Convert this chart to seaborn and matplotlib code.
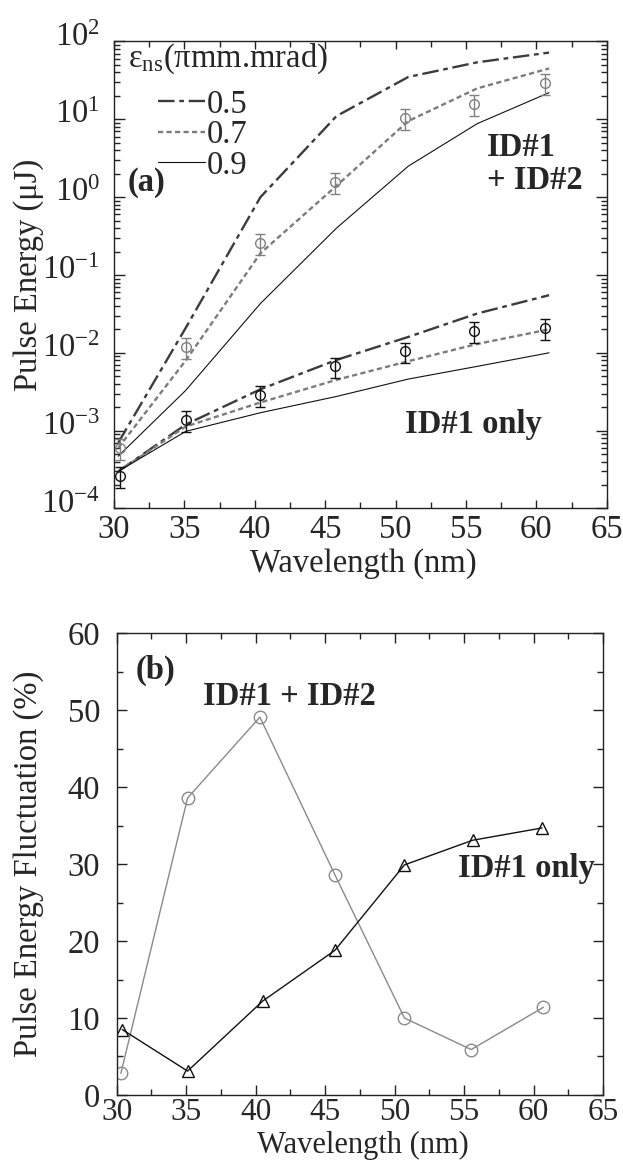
import matplotlib
matplotlib.use("Agg")
import matplotlib.pyplot as plt
import matplotlib.ticker as mticker
import matplotlib.transforms as mtransforms
import seaborn as sns

# ---------------- data ----------------
# (a) measured pulse energy (uJ) with error bars
lam_points = [30.4, 35.1, 40.4, 45.7, 50.7, 55.6, 60.6]
energy_both = [6.0e-4, 1.2e-2, 0.255, 1.57, 10.5, 15.9, 29.0]
energy_both_err = [1.8e-4, 3.6e-3, 0.077, 0.47, 3.2, 4.8, 8.7]
energy_id1 = [2.6e-4, 1.38e-3, 2.9e-3, 6.7e-3, 1.04e-2, 1.93e-2, 2.11e-2]
energy_id1_err = [0.78e-4, 0.41e-3, 0.87e-3, 2.0e-3, 3.1e-3, 5.8e-3, 6.3e-3]

# (a) simulated pulse energy for three slice emittances
lam_model = [30.3, 35.1, 40.4, 45.8, 50.9, 55.8, 60.9]
emittances = ["0.5", "0.7", "0.9"]
model_both = {
    "0.5": [7.0e-4, 2.1e-2, 1.0, 11.0, 35.0, 54.0, 72.0],
    "0.7": [6.0e-4, 8.0e-3, 0.19, 1.4, 9.5, 25.0, 45.0],
    "0.9": [4.7e-4, 3.3e-3, 0.043, 0.40, 2.5, 8.8, 22.0],
}
model_id1 = {
    "0.5": [3.0e-4, 1.2e-3, 3.4e-3, 8.1e-3, 1.6e-2, 3.2e-2, 5.5e-2],
    "0.7": [3.0e-4, 1.13e-3, 2.3e-3, 4.5e-3, 7.8e-3, 1.3e-2, 2.0e-2],
    "0.9": [3.0e-4, 9.8e-4, 1.7e-3, 2.75e-3, 4.6e-3, 6.7e-3, 1.0e-2],
}

# (b) pulse energy fluctuation (%)
lam_fluct_both = [30.3, 35.1, 40.3, 45.7, 50.7, 55.5, 60.7]
fluct_both = [2.8, 38.6, 49.1, 28.6, 10.0, 5.9, 11.4]
lam_fluct_id1 = [30.4, 35.1, 40.5, 45.7, 50.7, 55.6, 60.6]
fluct_id1 = [8.5, 3.1, 12.2, 18.8, 29.9, 33.1, 34.7]

# ---------------- style ----------------
sns.set_style("ticks")
plt.rcParams["font.family"] = ["Liberation Serif", "DejaVu Serif"]
plt.rcParams["mathtext.fontset"] = "custom"
plt.rcParams["mathtext.rm"] = "Liberation Serif"
plt.rcParams["mathtext.it"] = "Liberation Serif:italic"
plt.rcParams["mathtext.bf"] = "Liberation Serif:bold"
plt.rcParams["axes.linewidth"] = 1.0
plt.rcParams["axes.edgecolor"] = "#222222"

FS = 23.5
line_styles = {
    "0.5": dict(color="#3c3c3c", linewidth=1.7, linestyle=(0, (7.0, 2.0, 2.0, 2.0))),
    "0.7": dict(color="#7c7c7c", linewidth=1.7, linestyle=(0, (2.2, 1.4))),
    "0.9": dict(color="#111111", linewidth=0.8, linestyle="-"),
}
gray_pts = "#808080"

fig = plt.figure(figsize=(6.23, 11.62), dpi=100)
ax_a = fig.add_axes([0.183, 0.5624, 0.791, 0.4019])
ax_b = fig.add_axes([0.1873, 0.0577, 0.781, 0.3973])

# ---------------- panel (a) ----------------
for e in emittances:
    sns.lineplot(x=lam_model, y=model_both[e], ax=ax_a, estimator=None, sort=False,
                 legend=False, label=e, **line_styles[e])
for e in emittances:
    sns.lineplot(x=lam_model, y=model_id1[e], ax=ax_a, estimator=None, sort=False,
                 legend=False, **line_styles[e])

ax_a.errorbar(lam_points, energy_both, yerr=energy_both_err, fmt="o", ms=7,
              mfc="none", mec=gray_pts, mew=1.0, ecolor=gray_pts, elinewidth=1.0,
              capsize=3.5, capthick=1.0, zorder=5)
ax_a.errorbar(lam_points, energy_id1, yerr=energy_id1_err, fmt="o", ms=7,
              mfc="none", mec="#111111", mew=1.0, ecolor="#111111", elinewidth=1.0,
              capsize=3.5, capthick=1.0, zorder=5)

ax_a.set_yscale("log")
ax_a.set_xlim(30, 65)
ax_a.set_ylim(1e-4, 1e2)
ax_a.xaxis.set_major_locator(mticker.MultipleLocator(5))
ax_a.xaxis.set_minor_locator(mticker.MultipleLocator(2.5))
ax_a.yaxis.set_major_locator(mticker.LogLocator(base=10, numticks=20))
ax_a.yaxis.set_minor_locator(mticker.LogLocator(base=10, subs=range(2, 10), numticks=20))
ax_a.yaxis.set_minor_formatter(mticker.NullFormatter())
ax_a.tick_params(axis="both", which="both", direction="in", top=True, right=True,
                 labelsize=FS, width=1.0, color="#222222")
ax_a.tick_params(axis="x", which="major", length=6, pad=4)
ax_a.tick_params(axis="x", which="minor", length=4)
ax_a.tick_params(axis="y", which="major", length=8, pad=10)
ax_a.tick_params(axis="y", which="minor", length=4)

ax_a.set_xlabel("Wavelength (nm)", fontsize=FS)
ax_a.set_ylabel("Pulse Energy (μJ)", fontsize=FS)
ax_a.xaxis.set_label_coords(0.505, -0.084)
ax_a.yaxis.set_label_coords(-0.142, 0.5)

ax_a.text(0.028, 0.963, r"$\mathrm{ε}_{\mathrm{ns}}$(πmm.mrad)", transform=ax_a.transAxes,
          fontsize=FS, ha="left", va="center")
handles = ax_a.get_lines()[:3]
ax_a.legend(handles=handles, labels=emittances, loc="upper left",
            bbox_to_anchor=(0.089, 0.898), frameon=False, fontsize=FS,
            handlelength=1.45, handletextpad=0.05, labelspacing=0.0,
            borderaxespad=0, borderpad=0)
ax_a.text(0.028, 0.697, "(a)", transform=ax_a.transAxes, fontsize=FS,
          fontweight="bold", ha="left", va="center")
ax_a.text(0.757, 0.738, "ID#1\n+ ID#2", transform=ax_a.transAxes, fontsize=FS,
          fontweight="bold", ha="left", va="center", linespacing=1.1)
ax_a.text(0.730, 0.179, "ID#1 only", transform=ax_a.transAxes, fontsize=FS,
          fontweight="bold", ha="center", va="center")

# ---------------- panel (b) ----------------
sns.lineplot(x=lam_fluct_both, y=fluct_both, ax=ax_b, estimator=None, sort=False,
             legend=False, color="#8a8a8a", linewidth=1.0, marker="o", markersize=9,
             mfc="none", mec="#8a8a8a", mew=1.0)
sns.lineplot(x=lam_fluct_id1, y=fluct_id1, ax=ax_b, estimator=None, sort=False,
             legend=False, color="#111111", linewidth=1.0, marker="^", markersize=9,
             mfc="none", mec="#111111", mew=1.0)

ax_b.set_xlim(30, 65)
ax_b.set_ylim(0, 60)
ax_b.xaxis.set_major_locator(mticker.MultipleLocator(5))
ax_b.xaxis.set_minor_locator(mticker.MultipleLocator(2.5))
ax_b.yaxis.set_major_locator(mticker.MultipleLocator(10))
ax_b.yaxis.set_minor_locator(mticker.MultipleLocator(5))
ax_b.tick_params(axis="both", which="both", direction="in", top=True, right=True,
                 labelsize=FS, width=1.0, color="#222222")
ax_b.tick_params(axis="both", which="major", length=7)
ax_b.tick_params(axis="both", which="minor", length=4)
ax_b.tick_params(axis="x", which="major", pad=2.5, labelsize=22.5)
ax_b.tick_params(axis="y", which="major", pad=12)

ax_b.set_xlabel("Wavelength (nm)", fontsize=22)
ax_b.set_ylabel("Pulse Energy Fluctuation (%)", fontsize=FS)
ax_b.xaxis.set_label_coords(0.506, -0.078)
ax_b.yaxis.set_label_coords(-0.149, 0.5)

ax_b.text(0.038, 0.92, "(b)", transform=ax_b.transAxes, fontsize=FS,
          fontweight="bold", ha="left", va="center")
ax_b.text(0.177, 0.863, "ID#1 + ID#2", transform=ax_b.transAxes, fontsize=FS,
          fontweight="bold", ha="left", va="center")
ax_b.text(0.701, 0.491, "ID#1 only", transform=ax_b.transAxes, fontsize=FS,
          fontweight="bold", ha="left", va="center")

# lift the log-axis tick labels so the base sits on the tick
fig.canvas.draw()
lift = mtransforms.ScaledTranslation(0, 5.5 / 72, fig.dpi_scale_trans)
for lbl in ax_a.get_yticklabels():
    lbl.set_transform(lbl.get_transform() + lift)

fig.savefig("out.png", dpi=100)
